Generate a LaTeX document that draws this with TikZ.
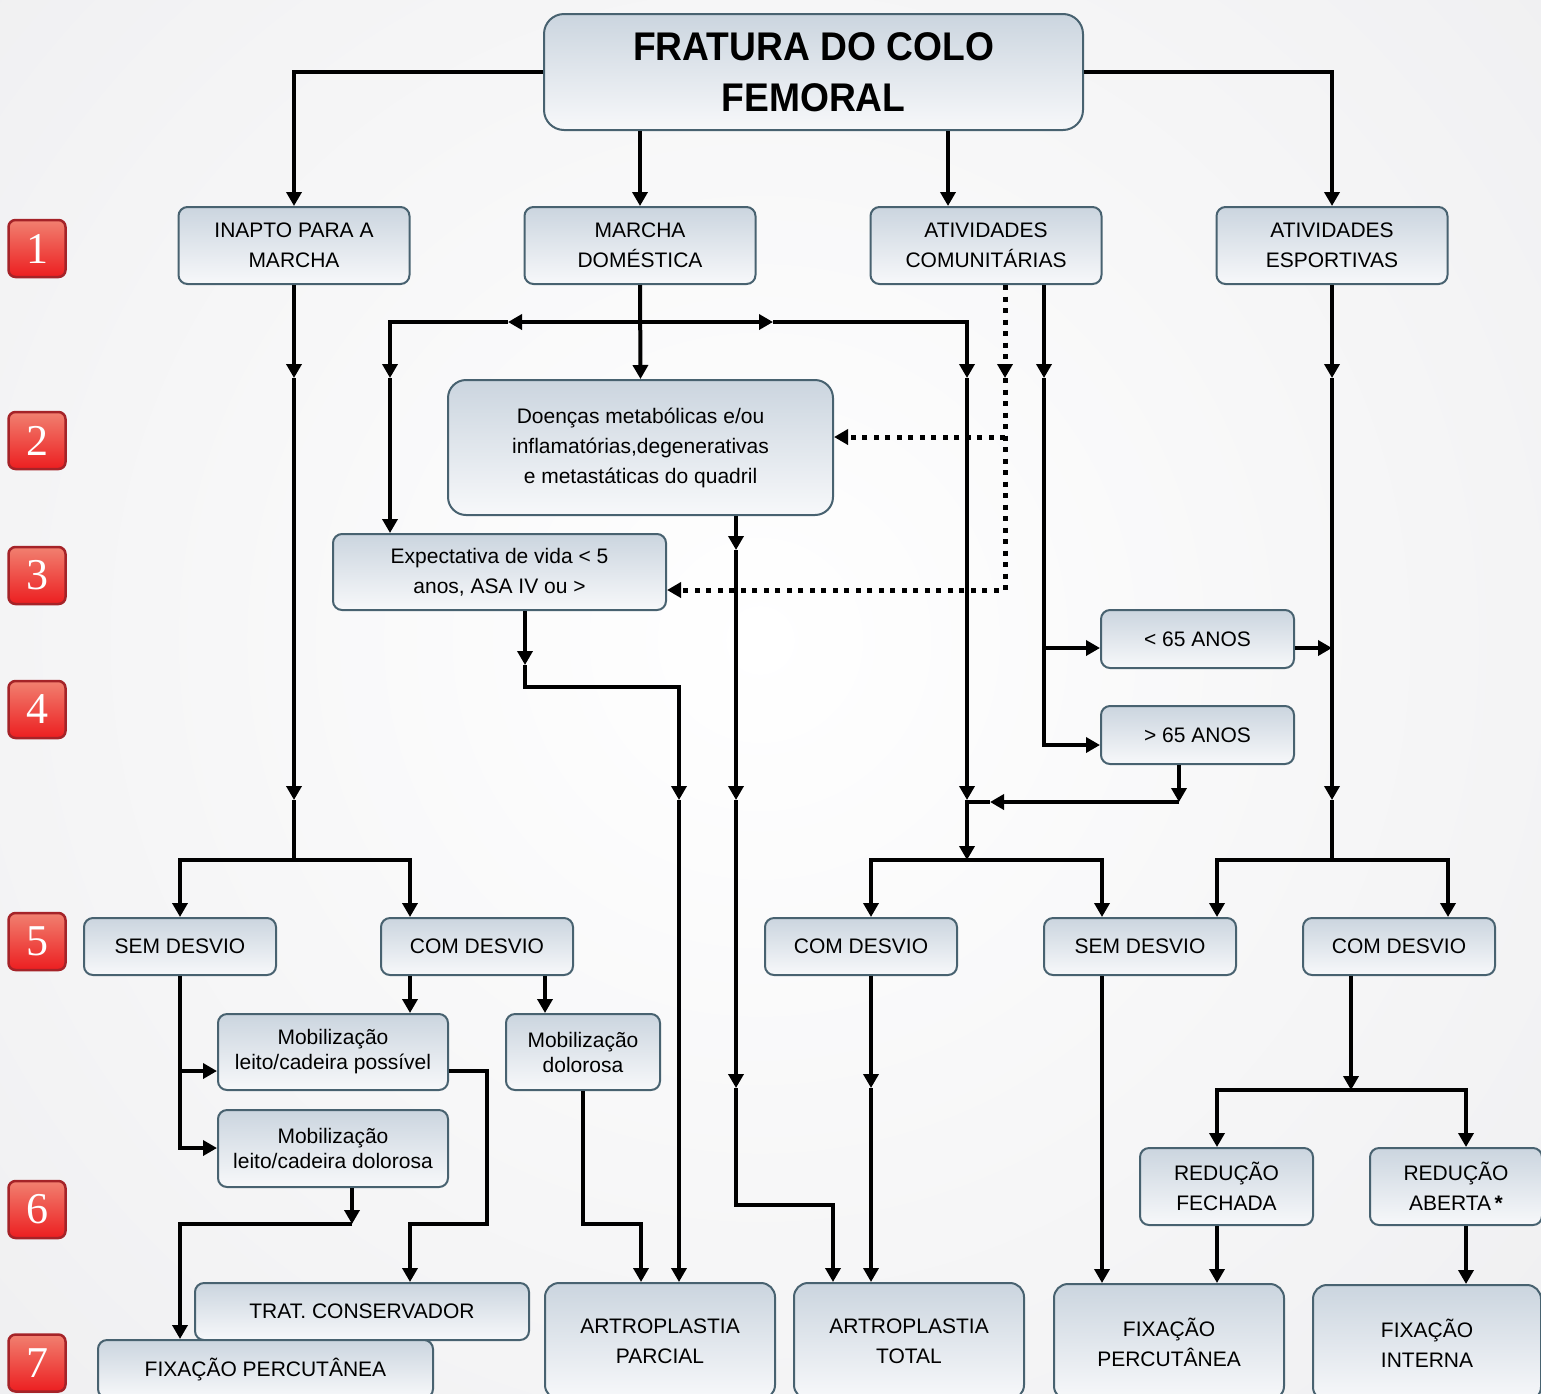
\documentclass[tikz,border=0pt]{standalone}
\usepackage{fontspec}
\setmainfont{Liberation Sans}
\newfontfamily\badgefont{Liberation Serif}
\usetikzlibrary{arrows.meta}
\definecolor{bgc}{RGB}{236,236,238}
\definecolor{bordc}{RGB}{72,98,112}
\definecolor{topc}{RGB}{203,213,223}
\definecolor{botc}{RGB}{247,248,250}
\definecolor{redtop}{RGB}{241,128,112}
\definecolor{redbot}{RGB}{236,30,32}
\definecolor{redbord}{RGB}{165,35,40}
\begin{document}
\begin{tikzpicture}[x=1pt,y=-1pt,
  box/.style={draw=bordc, line width=2pt, rounded corners=9pt, top color=topc, bottom color=botc,
    align=center, inner sep=0pt, text=black, font=\fontsize{21}{30}\selectfont},
  bx/.style 2 args={box, minimum width=#1, minimum height=#2},
  badge/.style={draw=redbord, line width=2.5pt, rounded corners=7pt, top color=redtop, bottom color=redbot,
    minimum size=57pt, inner sep=0pt, text=white, font=\badgefont\fontsize{44}{44}\selectfont},
  ln/.style={line width=4pt, black},
  arr/.style={-{Triangle[length=14pt,width=15pt]}},
  dotln/.style={line width=5pt, black, dash pattern=on 5pt off 6.5pt},
]
\useasboundingbox (0,0) rectangle (1541,1393);
\clip (0,0) rectangle (1541,1393);
\fill[bgc] (0,0) rectangle (1541,1393);
\shade[inner color=white, outer color=bgc] (760,640) circle (1300pt);

% badges
\node[badge] (k1) at (37,248.5) {1};
\node[badge] (k2) at (37,440.5) {2};
\node[badge] (k3) at (37,575.5) {3};
\node[badge] (k4) at (37,709.5) {4};
\node[badge] (k5) at (37,941.5) {5};
\node[badge] (k6) at (37,1209.5) {6};
\node[badge] (k7) at (37,1363) {7};

% nodes
\node[bx={539pt}{116pt}, rounded corners=20pt, font=\bfseries\fontsize{40}{51}\selectfont] (title) at (813.5,72)
  {\scalebox{0.93}[1]{FRATURA DO COLO}\\\scalebox{0.93}[1]{FEMORAL}};
\node[bx={231pt}{77pt}] (inapto) at (294,245.5) {INAPTO PARA A\\MARCHA};
\node[bx={231pt}{77pt}] (marcha) at (640,245.5) {MARCHA\\DOMÉSTICA};
\node[bx={231pt}{77pt}] (comun) at (986,245.5) {ATIVIDADES\\COMUNITÁRIAS};
\node[bx={231pt}{77pt}] (esport) at (1332,245.5) {ATIVIDADES\\ESPORTIVAS};
\node[bx={385pt}{135pt}, rounded corners=18pt] (doencas) at (640.5,447.5)
  {Doenças metabólicas e/ou\\inflamatórias,degenerativas\\e metastáticas do quadril};
\node[bx={333pt}{76pt}] (expect) at (499.5,572) {Expectativa de vida < 5\\anos, ASA IV ou >};
\node[bx={193pt}{58pt}] (menos) at (1197.5,639) {< 65 ANOS};
\node[bx={193pt}{58pt}] (mais) at (1197.5,735) {> 65 ANOS};
\node[bx={192pt}{57pt}] (sem1) at (180,946.5) {SEM DESVIO};
\node[bx={192pt}{57pt}] (com1) at (477,946.5) {COM DESVIO};
\node[bx={192pt}{57pt}] (com2) at (861,946.5) {COM DESVIO};
\node[bx={192pt}{57pt}] (sem2) at (1140,946.5) {SEM DESVIO};
\node[bx={192pt}{57pt}] (com3) at (1399,946.5) {COM DESVIO};
\node[bx={230pt}{76pt}, font=\fontsize{21}{25}\selectfont] (mobpos) at (333,1052) {Mobilização\\leito/cadeira possível};
\node[bx={154pt}{76pt}, font=\fontsize{21}{25}\selectfont] (mobdol) at (583,1052) {Mobilização\\dolorosa};
\node[bx={230pt}{77pt}, font=\fontsize{21}{25}\selectfont] (mobleito) at (333,1148.5) {Mobilização\\leito/cadeira dolorosa};
\node[bx={173pt}{77pt}] (redfech) at (1226.5,1186.5) {REDUÇÃO\\FECHADA};
\node[bx={172pt}{77pt}] (redab) at (1456,1186.5) {REDUÇÃO\\ABERTA\,{\bfseries *}};
\node[bx={334pt}{57pt}] (trat) at (362,1311.5) {TRAT. CONSERVADOR};
\node[bx={335pt}{58pt}] (fixp1) at (265.5,1369) {FIXAÇÃO PERCUTÂNEA};
\node[bx={230pt}{116pt}, rounded corners=14pt] (artparc) at (660,1341) {ARTROPLASTIA\\PARCIAL};
\node[bx={230pt}{116pt}, rounded corners=14pt] (arttot) at (909,1341) {ARTROPLASTIA\\TOTAL};
\node[bx={230pt}{116pt}, rounded corners=14pt] (fixp2) at (1169,1342) {FIXAÇÃO\\PERCUTÂNEA};
\node[bx={228pt}{116pt}, rounded corners=14pt] (fixint) at (1427,1343) {FIXAÇÃO\\INTERNA};

% coordinates
\coordinate (a1) at (294,378); \coordinate (a2) at (294,800); \coordinate (a3) at (294,860);
\coordinate (h0) at (640,322); \coordinate (hl) at (508,322); \coordinate (hr) at (773,322);
\coordinate (hL) at (390,322); \coordinate (b1) at (390,378); \coordinate (hR) at (967,322);
\coordinate (c1) at (967,378); \coordinate (c2) at (967,800); \coordinate (c3) at (967,860);
\coordinate (d0) at (1005,378); \coordinate (d1) at (1005,437); \coordinate (d2) at (1005,590);
\coordinate (e1) at (1044,378); \coordinate (e2) at (1044,648); \coordinate (e3) at (1044,745);
\coordinate (f1) at (1332,378); \coordinate (f2) at (1332,648); \coordinate (f3) at (1332,800); \coordinate (f4) at (1332,860);
\coordinate (g1) at (1179,802); \coordinate (g2) at (990,802); \coordinate (g3) at (967,802);
\coordinate (x1) at (736,550); \coordinate (x2) at (736,800); \coordinate (x3) at (736,1088);
\coordinate (x4) at (736,1205); \coordinate (x5) at (833,1205);
\coordinate (m1) at (525,665); \coordinate (m2) at (525,687); \coordinate (m3) at (679,687); \coordinate (m4) at (679,800);
\coordinate (n1) at (180,1071); \coordinate (n2) at (180,1148);
\coordinate (p1) at (487,1071); \coordinate (p2) at (487,1224); \coordinate (p3) at (410,1224);
\coordinate (q1) at (352,1224); \coordinate (q2) at (180,1224);
\coordinate (r1) at (583,1224); \coordinate (r2) at (641,1224);
\coordinate (s1) at (871,1088);
\coordinate (t1) at (1351,1090);

% title to row 1
\draw[ln,arr] (title.west) -| (inapto.north);
\draw[ln,arr] (title.south -| marcha.north) -- (marcha.north);
\draw[ln,arr] (title.south -| 948,0) -- (comun.north -| 948,0);
\draw[ln,arr] (title.east) -| (esport.north);

% inapto column
\draw[ln,arr] (inapto.south) -- (a1);
\draw[ln,arr] (a1) -- (a2);
\draw[ln] (a2) -- (a3);
\draw[ln,arr] (a3) -| (sem1.north);
\draw[ln,arr] (a3) -| (com1.north -| 410,0);

% marcha
\draw[ln,arr] (marcha.south) -- (doencas.north);
\draw[ln,arr] (h0) -- (hl);
\draw[ln,arr] (hl) -- (hL) -- (b1);
\draw[ln,arr] (b1) -- (expect.north -| b1);
\draw[ln,arr] (h0) -- (hr);
\draw[ln,arr] (hr) -- (hR) -- (c1);
\draw[ln,arr] (c1) -- (c2);
\draw[ln,arr] (c2) -- (c3);
\draw[ln,arr] (c3) -| (com2.north -| 871,0);
\draw[ln,arr] (c3) -| (sem2.north -| 1102,0);

% comunitarias
\draw[dotln,arr] (comun.south -| d0) -- (d0);
\draw[dotln,arr] (d0) -- (d2) -- (expect.east |- d2);
\draw[dotln,arr] (d1) -- (doencas.east |- d1);
\draw[ln,arr] (comun.south -| e1) -- (e1);
\draw[ln,arr] (e1) -- (e3) -- (mais.west |- e3);
\draw[ln,arr] (e2) -- (menos.west |- e2);
\draw[ln,arr] (menos.east |- f2) -- (f2);
\draw[ln,arr] (mais.south -| g1) -- (g1);
\draw[ln,arr] (g1) -- (g2);
\draw[ln] (g2) -- (g3);

% esportivas
\draw[ln,arr] (esport.south) -- (f1);
\draw[ln,arr] (f1) -- (f3);
\draw[ln] (f3) -- (f4);
\draw[ln,arr] (f4) -| (sem2.north -| 1217,0);
\draw[ln,arr] (f4) -| (com3.north -| 1448,0);

% doencas and expectativa
\draw[ln,arr] (doencas.south -| x1) -- (x1);
\draw[ln,arr] (x1) -- (x2);
\draw[ln,arr] (x2) -- (x3);
\draw[ln,arr] (x3) -- (x4) -- (x5) -- (arttot.north -| x5);
\draw[ln,arr] (expect.south -| m1) -- (m1);
\draw[ln,arr] (m1) -- (m2) -- (m3) -- (m4);
\draw[ln,arr] (m4) -- (artparc.north -| m4);

% left lower part
\draw[ln,arr] (sem1.south) -- (n2) -- (mobleito.west |- n2);
\draw[ln,arr] (n1) -- (mobpos.west |- n1);
\draw[ln,arr] (com1.south -| 410,0) -- (mobpos.north -| 410,0);
\draw[ln,arr] (com1.south -| 545,0) -- (mobdol.north -| 545,0);
\draw[ln,arr] (mobpos.east |- p1) -- (p1) -- (p2) -- (p3) -- (trat.north -| p3);
\draw[ln,arr] (mobleito.south -| q1) -- (q1);
\draw[ln,arr] (q1) -- (q2) -- (fixp1.north -| q2);
\draw[ln,arr] (mobdol.south) -- (r1) -- (r2) -- (artparc.north -| r2);

% right lower part
\draw[ln,arr] (com2.south -| s1) -- (s1);
\draw[ln,arr] (s1) -- (arttot.north -| s1);
\draw[ln,arr] (sem2.south -| 1102,0) -- (fixp2.north -| 1102,0);
\draw[ln,arr] (com3.south -| t1) -- (t1);
\draw[ln,arr] (t1) -| (redfech.north -| 1217,0);
\draw[ln,arr] (t1) -| (redab.north -| 1466,0);
\draw[ln,arr] (redfech.south -| 1217,0) -- (fixp2.north -| 1217,0);
\draw[ln,arr] (redab.south -| 1466,0) -- (fixint.north -| 1466,0);
\end{tikzpicture}
\end{document}
